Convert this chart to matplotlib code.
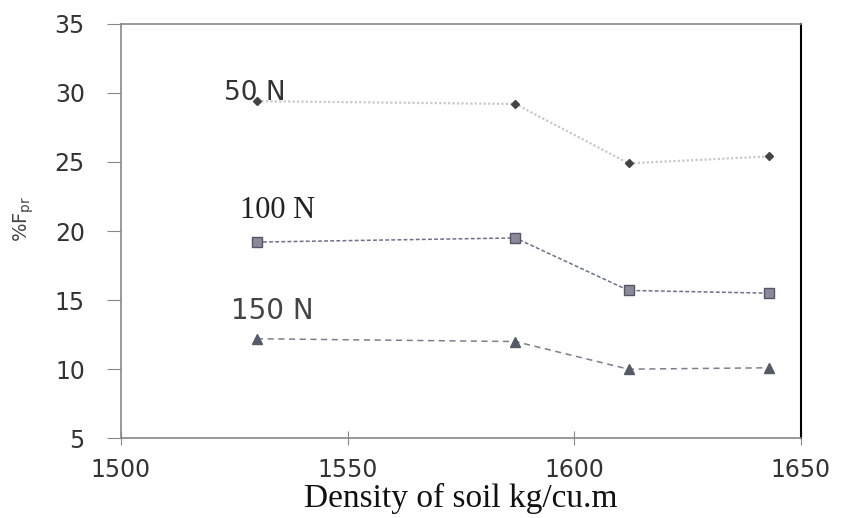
import matplotlib
matplotlib.use("Agg")
import matplotlib.pyplot as plt

density = [1530, 1587, 1612, 1643]
f50 = [29.4, 29.2, 24.9, 25.4]
f100 = [19.2, 19.5, 15.7, 15.5]
f150 = [12.2, 12.0, 10.0, 10.1]
xticks = [1500, 1550, 1600, 1650]
yticks = [5, 10, 15, 20, 25, 30, 35]

fig = plt.figure(figsize=(8.43, 5.18), dpi=100)
ax = fig.add_axes([0.1435, 0.154, 0.8065, 0.80])

ax.plot(density, f50, linestyle=(0, (1, 1)), color="#c8c8c8", lw=1.6,
        marker="D", ms=4.5, mfc="#444444", mec="#444444", zorder=3)
ax.plot(density, f100, linestyle=(0, (2.5, 1.5)), color="#6a7088", lw=1.1,
        marker="s", ms=7, mfc="#8a8a9a", mec="#555566", zorder=3)
ax.plot(density, f150, linestyle=(0, (4, 3)), color="#7a7f8c", lw=1.1,
        marker="^", ms=7, mfc="#555a66", mec="#555a66", zorder=3)

ax.text(1529.5, 30.0, "50 N", fontsize=19, family="DejaVu Sans", color="#333333",
        ha="center", va="center")
ax.text(1534.5, 21.45, "100 N", fontsize=22, family="Liberation Serif", color="#222222",
        ha="center", va="center")
ax.text(1533.5, 14.2, "150 N", fontsize=20, family="DejaVu Sans", color="#444444",
        ha="center", va="center")

ax.set_xlim(1500, 1650)
ax.set_ylim(5, 35)
ax.set_xticks(xticks)
ax.set_yticks(yticks)
ax.tick_params(axis="y", direction="out", length=10, color="#888888", labelsize=17,
               labelcolor="#333333", pad=16)
ax.tick_params(axis="x", direction="inout", length=10, color="#888888", labelsize=17,
               labelcolor="#333333", pad=9)

for s in ["left", "top", "bottom"]:
    ax.spines[s].set_color("#888888")
    ax.spines[s].set_linewidth(1.2)
ax.spines["right"].set_color("#000000")
ax.spines["right"].set_linewidth(1.5)

ax.set_xlabel("Density of soil kg/cu.m", fontsize=24, family="Liberation Serif",
              color="#111111", labelpad=1)
ax.set_ylabel(r"%F$_{\mathrm{pr}}$", fontsize=14, color="#444444")
ax.yaxis.set_label_coords(-0.125, 0.53)

fig.savefig("out.png", dpi=100, facecolor="white")
